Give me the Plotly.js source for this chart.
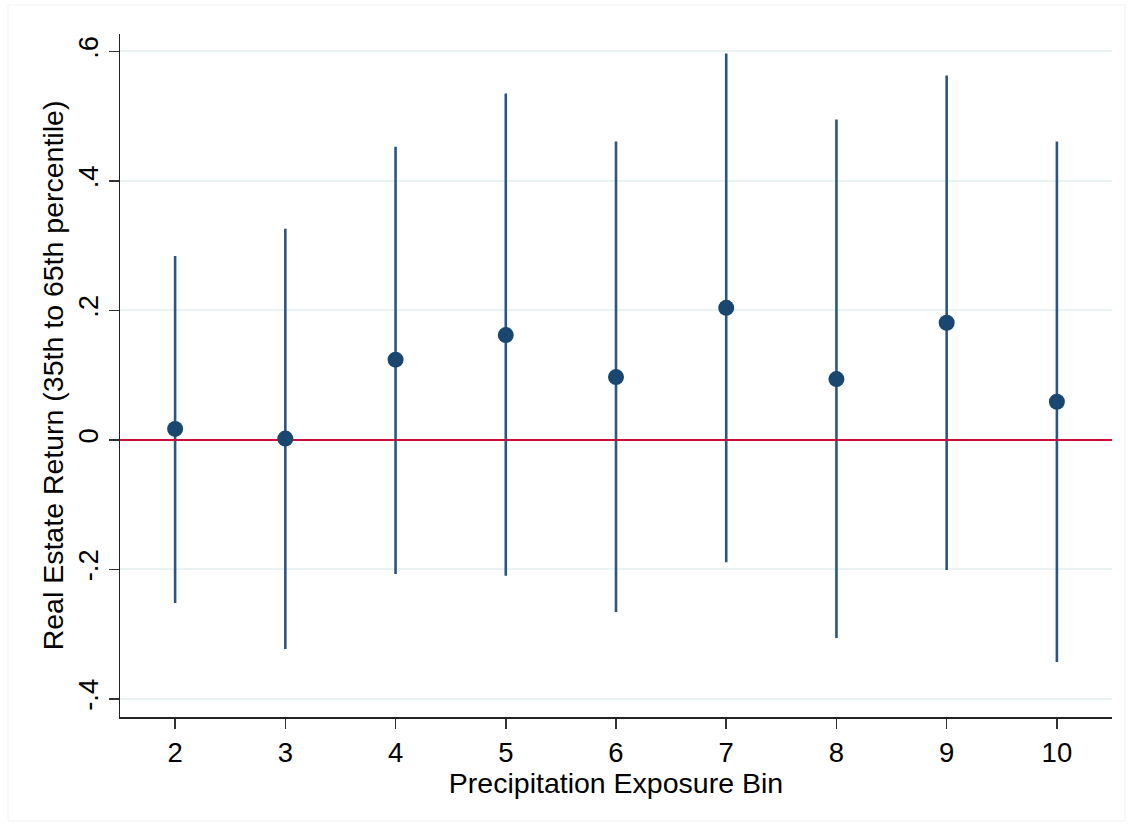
<!DOCTYPE html>
<html>
<head>
<meta charset="utf-8">
<script src="https://cdn.plot.ly/plotly-3.0.1.min.js"></script>
<style>html,body{margin:0;padding:0;background:#fff;}#chart{width:1133px;height:826px;}</style>
</head>
<body>
<div id="chart"></div>
<script>
const bins = [2, 3, 4, 5, 6, 7, 8, 9, 10];
const estimate = [0.017, 0.002, 0.124, 0.162, 0.097, 0.204, 0.094, 0.181, 0.059];
const upperCI = [0.284, 0.326, 0.453, 0.535, 0.461, 0.597, 0.495, 0.563, 0.461];
const lowerCI = [-0.252, -0.323, -0.207, -0.210, -0.266, -0.189, -0.306, -0.201, -0.343];
const yTickVals = [-0.4, -0.2, 0, 0.2, 0.4, 0.6];
const yTickText = ['-.4', '-.2', '0', '.2', '.4', '.6'];
const xTitle = 'Precipitation Exposure Bin';
const yTitle = 'Real Estate Return (35th to 65th percentile)';

const navy = '#1a476f';
const font = 'Arial, "Liberation Sans", sans-serif';
const fs = 27.5;
const fsTitle = 28.5;

const errPlus = upperCI.map((u, i) => u - estimate[i]);
const errMinus = lowerCI.map((l, i) => estimate[i] - l);

const traces = [
  {
    x: bins, y: estimate, type: 'scatter', mode: 'markers',
    marker: {size: 16, color: navy, opacity: 0},
    error_y: {type: 'data', symmetric: false, array: errPlus, arrayminus: errMinus,
              width: 0, thickness: 2.6, color: '#2a5680'},
    hoverinfo: 'skip', showlegend: false
  },
  {
    x: [1.5, 10.5], y: [0, 0], type: 'scatter', mode: 'lines',
    line: {color: '#c8103a', width: 2}, hoverinfo: 'skip', showlegend: false
  },
  {
    x: bins, y: estimate, type: 'scatter', mode: 'markers',
    marker: {size: 16, color: navy, line: {width: 0}}, showlegend: false
  }
];

const layout = {
  width: 1133, height: 826,
  paper_bgcolor: '#ffffff', plot_bgcolor: '#ffffff',
  margin: {l: 120, r: 21, t: 34, b: 109},
  font: {family: font, size: fs, color: '#000'},
  showlegend: false,
  xaxis: {
    range: [1.5, 10.5], tickvals: bins, ticktext: bins.map(String),
    showgrid: false, zeroline: false,
    showline: true, linecolor: '#222', linewidth: 1.5,
    ticks: 'outside', ticklen: 10, tickwidth: 1.5, tickcolor: '#333',
    tickfont: {family: font, size: fs, color: '#000'},
    title: {text: xTitle, font: {family: font, size: fsTitle, color: '#000'}, standoff: 0}
  },
  yaxis: {
    range: [-0.428, 0.627], tickvals: yTickVals, ticktext: yTickText,
    tickangle: -90,
    showgrid: true, gridcolor: '#eaf2f3', gridwidth: 2,
    zeroline: false,
    showline: true, linecolor: '#222', linewidth: 1.5,
    ticks: 'outside', ticklen: 10, tickwidth: 1.5, tickcolor: '#333',
    tickfont: {family: font, size: fs, color: '#000'},
    title: {text: yTitle, font: {family: font, size: fsTitle, color: '#000'}, standoff: 0}
  },
  shapes: [
    {type: 'rect', xref: 'paper', yref: 'paper',
     x0: -112 / 992, x1: 1 + 13 / 992, y0: -(821 - 717) / 683, y1: 1 + (34 - 5) / 683,
     line: {color: '#f2f2f2', width: 1}, fillcolor: 'rgba(0,0,0,0)', layer: 'below'}
  ]
};

Plotly.newPlot('chart', traces, layout, {staticPlot: true, displayModeBar: false});
</script>
</body>
</html>
